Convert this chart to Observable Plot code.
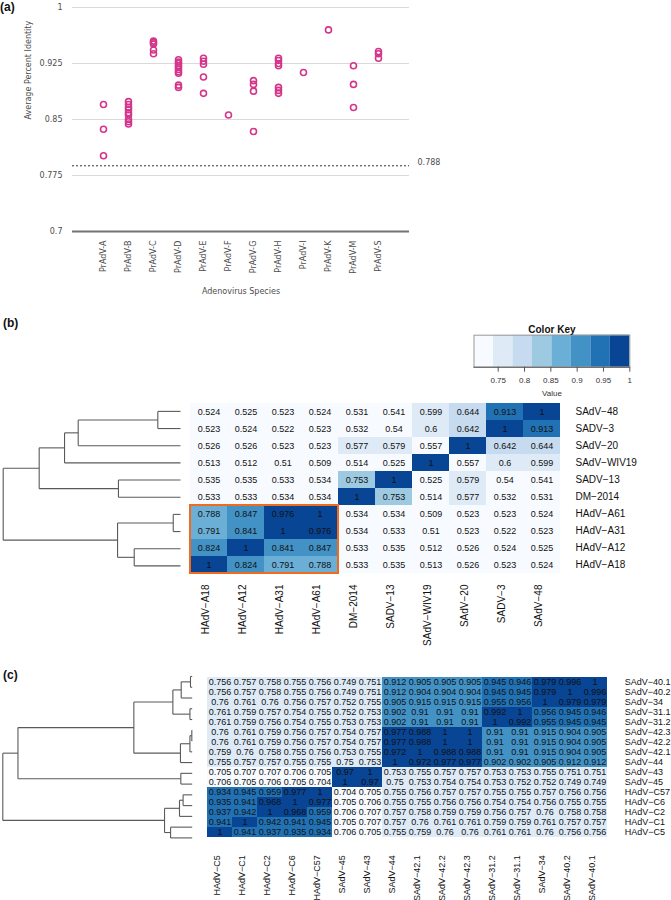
<!DOCTYPE html>
<html><head><meta charset="utf-8">
<script src="https://cdn.jsdelivr.net/npm/d3@7"></script>
<script src="https://cdn.jsdelivr.net/npm/@observablehq/plot@0.6"></script>
<style>
body{margin:0;background:#fff;overflow:hidden;}
#root{position:relative;width:671px;height:900px;font-family:"Liberation Sans",Arial,sans-serif;}
.plabel{position:absolute;font-weight:bold;font-size:12px;line-height:16px;font-family:"Liberation Sans",Arial,sans-serif;color:#111;}
</style></head><body><div id="root"></div>
<script>
// ---------- Panel (a) data ----------
const species = ["PrAdV-A","PrAdV-B","PrAdV-C","PrAdV-D","PrAdV-E","PrAdV-F","PrAdV-G","PrAdV-H","PrAdV-I","PrAdV-K","PrAdV-M","PrAdV-S"];
const prAdV_A = [0.870, 0.837, 0.8015];
const prAdV_B = [0.874, 0.870, 0.866, 0.863, 0.859, 0.856, 0.850, 0.847, 0.844];
const prAdV_C = [0.955, 0.953, 0.951, 0.943, 0.938];
const prAdV_D = [0.930, 0.927, 0.925, 0.922, 0.920, 0.917, 0.914, 0.912, 0.896, 0.893];
const prAdV_E = [0.932, 0.928, 0.924, 0.907, 0.885];
const prAdV_F = [0.856];
const prAdV_G = [0.902, 0.897, 0.888, 0.834];
const prAdV_H = [0.932, 0.929, 0.925, 0.922, 0.893, 0.889, 0.885];
const prAdV_I = [0.913];
const prAdV_K = [0.970];
const prAdV_M = [0.922, 0.897, 0.866];
const prAdV_S = [0.941, 0.938, 0.932];
const speciesValues = [prAdV_A, prAdV_B, prAdV_C, prAdV_D, prAdV_E, prAdV_F, prAdV_G, prAdV_H, prAdV_I, prAdV_K, prAdV_M, prAdV_S];
const yTicksA = [0.7, 0.775, 0.85, 0.925, 1];
const cutoffA = 0.788;

// ---------- Panel (b) data ----------
const rowsB = ["SAdV−48","SADV−3","SAdV−20","SAdV−WIV19","SADV−13","DM−2014","HAdV−A61","HAdV−A31","HAdV−A12","HAdV−A18"];
const colsB = ["HAdV−A18","HAdV−A12","HAdV−A31","HAdV−A61","DM−2014","SADV−13","SAdV−WIV19","SAdV−20","SADV−3","SAdV−48"];
const valuesB = [
  [0.524,0.525,0.523,0.524,0.531,0.541,0.599,0.644,0.913,1],
  [0.523,0.524,0.522,0.523,0.532,0.54,0.6,0.642,1,0.913],
  [0.526,0.526,0.523,0.523,0.577,0.579,0.557,1,0.642,0.644],
  [0.513,0.512,0.51,0.509,0.514,0.525,1,0.557,0.6,0.599],
  [0.535,0.535,0.533,0.534,0.753,1,0.525,0.579,0.54,0.541],
  [0.533,0.533,0.534,0.534,1,0.753,0.514,0.577,0.532,0.531],
  [0.788,0.847,0.976,1,0.534,0.534,0.509,0.523,0.523,0.524],
  [0.791,0.841,1,0.976,0.534,0.533,0.51,0.523,0.522,0.523],
  [0.824,1,0.841,0.847,0.533,0.535,0.512,0.526,0.524,0.525],
  [1,0.824,0.791,0.788,0.533,0.535,0.513,0.526,0.523,0.524]
];
// merges: [childA, childB, height(relative to root)]; numbers refer to earlier merges
const mergesB = [
  ["SAdV−48","SADV−3",0.128],
  [0,"SAdV−20",0.577],
  [1,"SAdV−WIV19",0.654],
  ["SADV−13","DM−2014",0.350],
  [2,3,0.797],
  ["HAdV−A61","HAdV−A31",0.041],
  ["HAdV−A12","HAdV−A18",0.261],
  [5,6,0.355],
  [4,7,1]
];
const highlightRowsB = ["HAdV−A61","HAdV−A31","HAdV−A12","HAdV−A18"];
const highlightColsB = ["HAdV−A18","HAdV−A12","HAdV−A31","HAdV−A61"];

// ---------- Panel (c) data ----------
const rowsC = ["SAdV−40.1","SAdV−40.2","SAdV−34","SAdV−31.1","SAdV−31.2","SAdV−42.3","SAdV−42.2","SAdV−42.1","SAdV−44","SAdV−43","SAdV−45","HAdV−C57","HAdV−C6","HAdV−C2","HAdV−C1","HAdV−C5"];
const colsC = ["HAdV−C5","HAdV−C1","HAdV−C2","HAdV−C6","HAdV−C57","SAdV−45","SAdV−43","SAdV−44","SAdV−42.1","SAdV−42.2","SAdV−42.3","SAdV−31.2","SAdV−31.1","SAdV−34","SAdV−40.2","SAdV−40.1"];
const valuesC = [
  [0.756,0.757,0.758,0.755,0.756,0.749,0.751,0.912,0.905,0.905,0.905,0.945,0.946,0.979,0.996,1],
  [0.756,0.757,0.758,0.755,0.756,0.749,0.751,0.912,0.904,0.904,0.904,0.945,0.945,0.979,1,0.996],
  [0.76,0.761,0.76,0.756,0.757,0.752,0.755,0.905,0.915,0.915,0.915,0.955,0.956,1,0.979,0.979],
  [0.761,0.759,0.757,0.754,0.755,0.752,0.753,0.902,0.91,0.91,0.91,0.992,1,0.956,0.945,0.946],
  [0.761,0.759,0.756,0.754,0.755,0.753,0.753,0.902,0.91,0.91,0.91,1,0.992,0.955,0.945,0.945],
  [0.76,0.761,0.759,0.756,0.757,0.754,0.757,0.977,0.988,1,1,0.91,0.91,0.915,0.904,0.905],
  [0.76,0.761,0.759,0.756,0.757,0.754,0.757,0.977,0.988,1,1,0.91,0.91,0.915,0.904,0.905],
  [0.759,0.76,0.758,0.755,0.756,0.753,0.755,0.972,1,0.988,0.988,0.91,0.91,0.915,0.904,0.905],
  [0.755,0.757,0.757,0.755,0.755,0.75,0.753,1,0.972,0.977,0.977,0.902,0.902,0.905,0.912,0.912],
  [0.705,0.707,0.707,0.706,0.705,0.97,1,0.753,0.755,0.757,0.757,0.753,0.753,0.755,0.751,0.751],
  [0.706,0.705,0.706,0.705,0.704,1,0.97,0.75,0.753,0.754,0.754,0.753,0.752,0.752,0.749,0.749],
  [0.934,0.945,0.959,0.977,1,0.704,0.705,0.755,0.756,0.757,0.757,0.755,0.755,0.757,0.756,0.756],
  [0.935,0.941,0.968,1,0.977,0.705,0.706,0.755,0.755,0.756,0.756,0.754,0.754,0.756,0.755,0.755],
  [0.937,0.942,1,0.968,0.959,0.706,0.707,0.757,0.758,0.759,0.759,0.756,0.757,0.76,0.758,0.758],
  [0.941,1,0.942,0.941,0.945,0.705,0.707,0.757,0.76,0.761,0.761,0.759,0.759,0.761,0.757,0.757],
  [1,0.941,0.937,0.935,0.934,0.706,0.705,0.755,0.759,0.76,0.76,0.761,0.761,0.76,0.756,0.756]
];
const mergesC = [
  ["SAdV−40.1","SAdV−40.2",0.009],
  [0,"SAdV−34",0.058],
  ["SAdV−31.1","SAdV−31.2",0.012],
  [1,2,0.102],
  ["SAdV−42.3","SAdV−42.2",0.002],
  [4,"SAdV−42.1",0.012],
  [5,"SAdV−44",0.062],
  [3,6,0.308],
  ["SAdV−43","SAdV−45",0.060],
  [7,8,0.92],
  ["HAdV−C57","HAdV−C6",0.048],
  [10,"HAdV−C2",0.067],
  ["HAdV−C1","HAdV−C5",0.114],
  [11,12,0.146],
  [9,13,1]
];
const keyTicks = [0.75, 0.8, 0.85, 0.9, 0.95, 1];
const blues8 = ["#f7fbff","#deebf7","#c6dbef","#9ecae1","#6baed6","#4292c6","#2171b5","#084594"];

// ---------- helpers ----------
const root = document.getElementById("root");
function place(el, left, top){ el.style.position="absolute"; el.style.left=left+"px"; el.style.top=top+"px"; root.appendChild(el); return el; }
function label(txt, left, top){ const d=document.createElement("div"); d.className="plabel"; d.textContent=txt; d.style.left=left+"px"; d.style.top=top+"px"; root.appendChild(d); }
function thresholdsOf(values){ const a=values.flat(); const lo=d3.min(a), hi=d3.max(a); return d3.range(1,8).map(i=>lo+i*(hi-lo)/8); }
function dendroSegments(rows, merges){
  const nodes=[]; const segs=[];
  const pos=c=> typeof c==="number" ? nodes[c] : {y: rows.indexOf(c), h: 0};
  merges.forEach(([a,b,h])=>{
    const A=pos(a), B=pos(b);
    segs.push({x1:h,y1:A.y,x2:h,y2:B.y});
    segs.push({x1:A.h,y1:A.y,x2:h,y2:A.y});
    segs.push({x1:B.h,y1:B.y,x2:h,y2:B.y});
    nodes.push({y:(A.y+B.y)/2,h});
  });
  return segs;
}
const baseStyle = {background:"none", overflow:"visible", fontFamily:"'Liberation Sans', Arial, sans-serif", color:"#111"};

// ---------- Panel (a) ----------
const pointsA = species.flatMap((s,i)=>speciesValues[i].map(v=>({species:s, value:v})));
const plotA = Plot.plot({
  width:480, height:310, marginLeft:72, marginRight:71, marginTop:7, marginBottom:79,
  style:{...baseStyle, fontFamily:"'DejaVu Sans', Verdana, sans-serif", fontSize:"8px", color:"#4d4d4d"},
  x:{type:"point", domain:species, padding:1},
  y:{domain:[0.7,1]},
  marks:[
    Plot.ruleY(yTicksA.filter(d=>d>0.7), {stroke:"#d9d9d9"}),
    Plot.ruleY([0.7], {stroke:"#737373", strokeWidth:2}),
    Plot.ruleY([cutoffA], {stroke:"#333", strokeDasharray:"2,2"}),
    Plot.axisY({ticks:yTicksA, tickSize:0, tickPadding:10, tickFormat:d=>String(d), label:null}),
    Plot.axisX({tickSize:0, tickPadding:9, tickRotate:-90, label:null}),
    Plot.dot(pointsA, {x:"species", y:"value", r:3, stroke:"#d4358a", strokeWidth:1.6, fill:"none"}),
    Plot.text([cutoffA], {y:d=>d, text:d=>String(d), frameAnchor:"right", dx:8, dy:-3, textAnchor:"start"}),
    Plot.text(["Adenovirus Species"], {text:d=>d, frameAnchor:"bottom", dy:62}),
    Plot.text(["Average Percent Identity"], {text:d=>d, frameAnchor:"left", dx:-44, rotate:-90})
  ]
});
place(plotA, 0, 0);
label("(a)", 0, -1);

// ---------- heatmap builder ----------
function heatmap({rows, cols, values, merges, left, top, width, height, mTop, mBottom, mLeft, mRight, dendLeft, rowDx, colDy, cellFont, rowFont, colFont, spacing}){
  const cells = rows.flatMap((r,i)=>cols.map((c,j)=>({row:r, col:c, value:values[i][j]})));
  const hm = Plot.plot({
    width, height, marginTop:mTop, marginBottom:mBottom, marginLeft:mLeft, marginRight:mRight,
    style:{...baseStyle, fontSize:cellFont+"px"},
    x:{type:"band", domain:cols, padding:0, axis:null},
    y:{type:"band", domain:rows, padding:0, axis:null},
    color:{type:"threshold", domain:thresholdsOf(values), range:blues8},
    marks:[
      Plot.cell(cells, {x:"col", y:"row", fill:"value", inset:0}),
      Plot.text(cells, {x:"col", y:"row", text:d=>String(d.value), fill:"#111", fontSize:cellFont}),
      Plot.text(rows, {y:d=>d, text:d=>d, frameAnchor:"right", dx:rowDx, textAnchor:"start", fontSize:rowFont, ariaLabel:"row labels"}),
      Plot.text(cols, {x:d=>d, text:d=>d, frameAnchor:"bottom", dy:colDy, rotate:-90, textAnchor:"end", fontSize:colFont, ariaLabel:"col labels"})
    ]
  });
  d3.select(hm).selectAll('g[aria-label="row labels"] text, g[aria-label="col labels"] text').attr("letter-spacing", spacing);
  place(hm, left, top);
  const dend = Plot.plot({
    width:mLeft-dendLeft.gap, height, marginTop:mTop, marginBottom:mBottom, marginLeft:dendLeft.root, marginRight:0,
    style:baseStyle, axis:null,
    x:{domain:[1,0]},
    y:{domain:[-0.5, rows.length-0.5], reverse:true},
    marks:[Plot.link(dendroSegments(rows, merges), {x1:"x1", y1:"y1", x2:"x2", y2:"y2", stroke:"#5a5a5a", strokeWidth:1.1})]
  });
  place(dend, left, top);
  return hm;
}

// ---------- Panel (b) ----------
label("(b)", 3, 315);
const hmB = heatmap({rows:rowsB, cols:colsB, values:valuesB, merges:mergesB,
  left:0, top:400, width:671, height:260, mTop:2.3, mBottom:86, mLeft:186, mRight:107,
  dendLeft:{root:2.7, gap:6}, rowDx:11, colDy:10, cellFont:9, rowFont:10, colFont:10, spacing:"1px"});
{
  const sx = hmB.scale("x"), sy = hmB.scale("y");
  const bwx = sx.bandwidth ?? (sx.range[1]-sx.range[0])/sx.domain.length;
  const bwy = sy.bandwidth ?? (sy.range[1]-sy.range[0])/sy.domain.length;
  const xs = highlightColsB.map(c=>sx.apply(c)), ys = highlightRowsB.map(r=>sy.apply(r));
  const x0=d3.min(xs), x1=d3.max(xs)+bwx, y0=d3.min(ys), y1=d3.max(ys)+bwy;
  d3.select(hmB).append("rect").attr("x",x0).attr("y",y0).attr("width",x1-x0).attr("height",y1-y0)
    .attr("fill","none").attr("stroke","#f26a1b").attr("stroke-width",2);
}

// ---------- Color key ----------
{
  const all = valuesC.flat(); const lo=d3.min(all), hi=d3.max(all);
  const bins = d3.range(8).map(i=>({x1:lo+i*(hi-lo)/8, x2:lo+(i+1)*(hi-lo)/8, v:lo+(i+0.5)*(hi-lo)/8}));
  const key = Plot.plot({
    width:220, height:85, marginLeft:33.5, marginRight:30.7, marginTop:14.7, marginBottom:38.3,
    style:{...baseStyle, fontSize:"8px", color:"#333"},
    x:{domain:[lo,hi]}, y:{domain:[0,1], axis:null},
    color:{type:"threshold", domain:thresholdsOf(valuesC), range:blues8},
    marks:[
      Plot.rect(bins, {x1:"x1", x2:"x2", y1:0, y2:1, fill:"v"}),
      Plot.frame({stroke:"#999"}),
      Plot.ruleY([0], {stroke:"#555"}),
      Plot.axisX({ticks:keyTicks, tickSize:5, tickPadding:5, tickFormat:d=>String(d), label:null, stroke:"#555"}),
      Plot.text(["Color Key"], {text:d=>d, frameAnchor:"top", dy:-9, fontWeight:"bold", fontSize:10, fill:"#111"}),
      Plot.text(["Value"], {text:d=>d, frameAnchor:"bottom", dy:29})
    ]
  });
  place(key, 440, 320);
}

// ---------- Panel (c) ----------
label("(c)", 3, 667);
heatmap({rows:rowsC, cols:colsC, values:valuesC, merges:mergesC,
  left:0, top:668, width:671, height:232, mTop:2.6, mBottom:57.2, mLeft:199.3, mRight:56.3,
  dendLeft:{root:2.3, gap:7.6}, rowDx:9.5, colDy:12, cellFont:9, rowFont:9, colFont:9, spacing:"0px"});
</script></body></html>
